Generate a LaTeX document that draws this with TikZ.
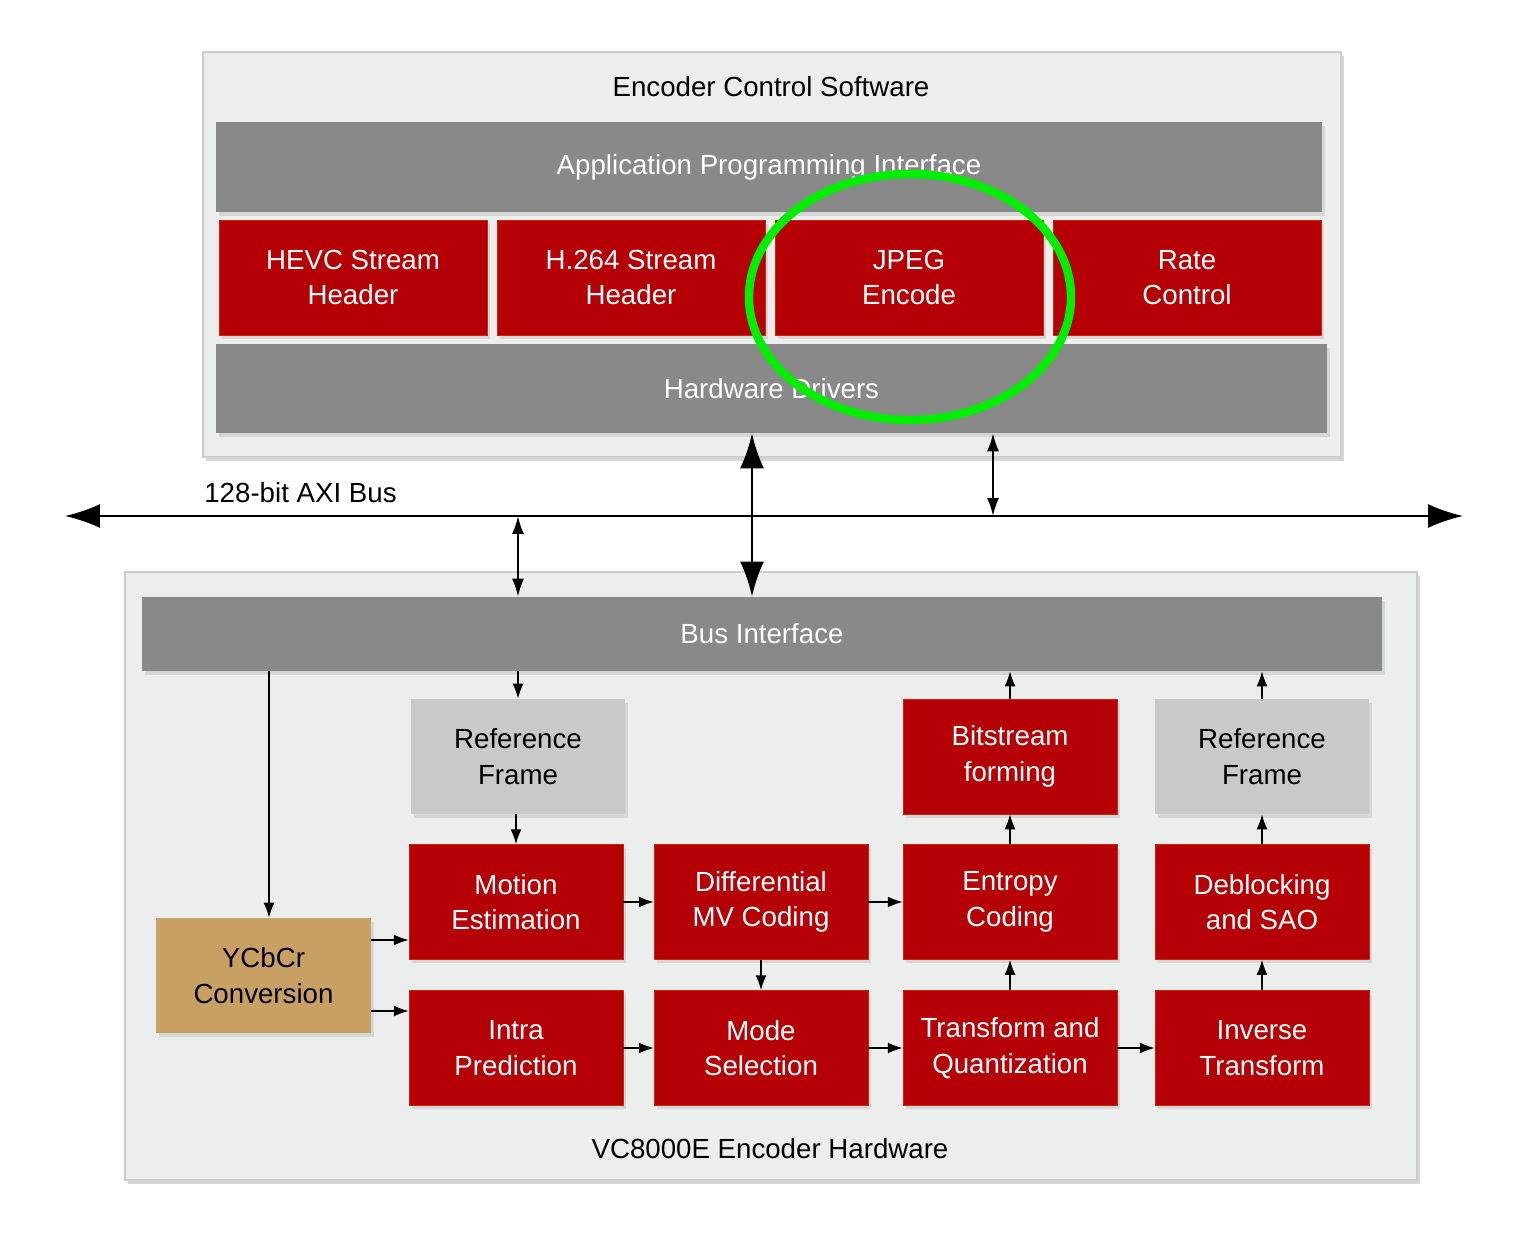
\documentclass[tikz,border=0pt]{standalone}
\usepackage{fontspec}
\setmainfont{Liberation Sans}
\usetikzlibrary{arrows.meta,shadows}
\definecolor{cred}{HTML}{B50005}
\definecolor{cbar}{HTML}{898989}
\definecolor{clight}{HTML}{C9C9C9}
\definecolor{ctan}{HTML}{C8A064}
\definecolor{ccont}{HTML}{ECEEED}
\definecolor{cgreen}{HTML}{00EE00}
\begin{document}
\begin{tikzpicture}[x=0.02cm,y=-0.02cm,
  font=\fontsize{15.75}{20.2}\selectfont,
  shad/.style={drop shadow={shadow xshift=0.06cm,shadow yshift=-0.08cm,fill=black!16,opacity=1}},
  container/.style={rectangle,fill=ccont,draw=black!20,line width=0.8pt,shad,inner sep=0pt},
  bar/.style={rectangle,fill=cbar,text=white,shad,inner sep=0pt,align=center},
  redbox/.style={rectangle,fill=cred,draw=cred!70!orange,line width=0.3pt,text=white,shad,inner sep=0pt,align=center,minimum width=4.28cm,minimum height=2.3cm},
  topred/.style={redbox,minimum width=5.36cm,minimum height=2.3cm},
  lightbox/.style={rectangle,fill=clight,text=black,shad,inner sep=0pt,align=center,minimum width=4.28cm,minimum height=2.3cm},
  tanbox/.style={rectangle,fill=ctan,text=black,shad,inner sep=0pt,align=center,minimum width=4.3cm,minimum height=2.3cm},
  label/.style={inner sep=0pt,text=black},
  arr/.style={-{Latex[length=0.3cm,width=0.22cm]},line width=0.85pt},
  darr/.style={{Latex[length=0.36cm,width=0.24cm]}-{Latex[length=0.36cm,width=0.24cm]},line width=1.1pt},
  bigarr/.style={{Latex[length=0.7cm,width=0.48cm]}-{Latex[length=0.7cm,width=0.48cm]},line width=1.6pt},
]
\useasboundingbox (0,0) rectangle (1515,1246);
\fill[white] (0,0) rectangle (1515,1246);

% top container
\node[container,minimum width=22.76cm,minimum height=8.1cm] (top) at (772,254.5) {};
\node[label] (toplbl) at (771,87) {Encoder Control Software};
\node[bar,minimum width=22.12cm,minimum height=1.8cm] (api) at (769,167) {Application Programming Interface};
\node[topred] (hevc) at (353,277.5) {HEVC Stream\\Header};
\node[topred] (h264) at (631,277.5) {H.264 Stream\\Header};
\node[topred] (jpeg) at (909,277.5) {JPEG\\Encode};
\node[topred] (rate) at (1187,277.5) {Rate\\Control};
\node[bar,minimum width=22.22cm,minimum height=1.78cm] (hw) at (771.5,388.5) {Hardware Drivers};

% bottom container
\node[container,minimum width=25.84cm,minimum height=12.16cm] (bot) at (771,876) {};
\node[label] (botlbl) at (770,1149) {VC8000E Encoder Hardware};
\node[bar,minimum width=24.8cm,minimum height=1.48cm] (busif) at (762,634) {Bus Interface};

\node[lightbox] (rf1) at (518,756.5) {Reference\\Frame};
\node[redbox] (bsf) at (1010,756.5) {Bitstream\\forming};
\node[lightbox] (rf2) at (1262,756.5) {Reference\\Frame};

\node[redbox] (me) at (516,902) {Motion\\Estimation};
\node[redbox] (dmv) at (761,902) {Differential\\MV Coding};
\node[redbox] (ent) at (1010,902) {Entropy\\Coding};
\node[redbox] (dbk) at (1262,902) {Deblocking\\and SAO};

\node[redbox] (ip) at (516,1048) {Intra\\Prediction};
\node[redbox] (ms) at (761,1048) {Mode\\Selection};
\node[redbox] (tq) at (1010,1048) {Transform and\\Quantization};
\node[redbox] (it) at (1262,1048) {Inverse\\Transform};

\node[tanbox] (ycc) at (263.5,975.5) {YCbCr\\Conversion};

% bus
\coordinate (busL) at (65,516);
\coordinate (busR) at (1463,516);
\draw[{Latex[length=0.7cm,width=0.48cm]}-{Latex[length=0.7cm,width=0.48cm]},line width=1.1pt] (busL) -- (busR);
\node[label,anchor=base west] (axilbl) at (204,503) {128-bit AXI Bus};

\coordinate (x752) at (752,0);
\coordinate (x993) at (993,0);
\coordinate (x518) at (518,0);
\coordinate (x269) at (269,0);
\draw[bigarr] (hw.south -| x752) -- (busif.north -| x752);
\draw[darr] (hw.south -| x993) -- (busL -| x993);
\draw[darr] (busL -| x518) -- (busif.north -| x518);

% internal flow
\draw[arr] (busif.south -| rf1) -- (rf1.north);
\draw[arr] (rf1.south -| me) -- (me.north);
\draw[arr] (busif.south -| x269) -- (ycc.north -| x269);
\coordinate (y940) at (0,940);
\coordinate (y1011) at (0,1011);
\draw[arr] (ycc.east |- y940) -- (me.west |- y940);
\draw[arr] (ycc.east |- y1011) -- (ip.west |- y1011);
\draw[arr] (me.east) -- (dmv.west);
\draw[arr] (ip.east) -- (ms.west);
\draw[arr] (dmv.south) -- (ms.north);
\draw[arr] (dmv.east) -- (ent.west);
\draw[arr] (ms.east) -- (tq.west);
\draw[arr] (tq.north) -- (ent.south);
\draw[arr] (ent.north) -- (bsf.south);
\draw[arr] (bsf.north) -- (busif.south -| bsf);
\draw[arr] (tq.east) -- (it.west);
\draw[arr] (it.north) -- (dbk.south);
\draw[arr] (dbk.north) -- (rf2.south);
\draw[arr] (rf2.north) -- (busif.south -| rf2);

% highlight
\draw[cgreen,line width=4.8pt] (910,297) ellipse [x radius=161,y radius=123];
\end{tikzpicture}
\end{document}
